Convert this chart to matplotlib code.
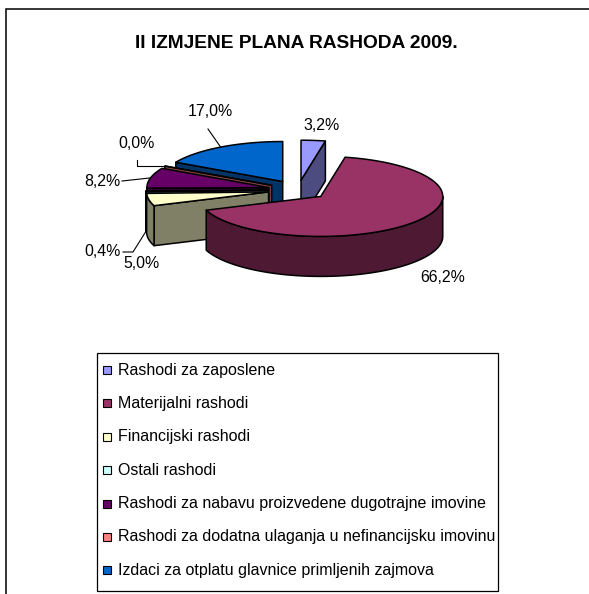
import numpy as np
import matplotlib
matplotlib.use("Agg")
import matplotlib.pyplot as plt
from matplotlib.patches import Polygon, Rectangle

# ---------------- data ----------------
categories = [
    "Rashodi za zaposlene",
    "Materijalni rashodi",
    "Financijski rashodi",
    "Ostali rashodi",
    "Rashodi za nabavu proizvedene dugotrajne imovine",
    "Rashodi za dodatna ulaganja u nefinancijsku imovinu",
    "Izdaci za otplatu glavnice primljenih zajmova",
]
values = [3.2, 66.2, 5.0, 0.4, 8.2, 0.0, 17.0]
value_labels = ["3,2%", "66,2%", "5,0%", "0,4%", "8,2%", "0,0%", "17,0%"]
top_colors = ["#9999FF", "#993366", "#FFFFCC", "#CCFFFF", "#660066", "#FF8080", "#0066CC"]
side_colors = ["#4C4C80", "#4D1933", "#808066", "#668080", "#330033", "#804040", "#003366"]
title = "II IZMJENE PLANA RASHODA 2009."

# ---------------- layout ----------------
W, H = 589, 594
CX, CY = 298, 190      # pie centre (px)
RX, RY = 122, 40       # ellipse radii (px)
DEPTH = 40             # pie thickness (px)
EXPL = 0.246           # explosion (fraction of radius)
FONT = "Liberation Sans"
LW = 1.1

# label text centres (px)
label_pos = [(322, 125), (443, 277), (142, 264), (103, 252), (102, 182), (137, 143), (210, 112)]

fig = plt.figure(figsize=(W / 100, H / 100), dpi=100)
ax = fig.add_axes([0, 0, 1, 1])
ax.set_xlim(0, W)
ax.set_ylim(H, 0)
ax.axis("off")

# outer frame
ax.plot([6, 6, W], [H, 9, 9], color="black", lw=1.1, solid_joinstyle="miter")

ax.text(296.5, 43, title, ha="center", va="center", fontsize=13.8,
        fontweight="bold", family=FONT)

# ---------------- 3D pie ----------------
total = sum(values)
angles = []
cum = 0.0
for v in values:
    a1 = 90 - cum / total * 360
    a0 = a1 - v / total * 360
    angles.append((np.radians(a0), np.radians(a1)))
    cum += v
mids = [(a0 + a1) / 2 for a0, a1 in angles]


def pt(i, r, th, z):
    m = mids[i]
    X = EXPL * np.cos(m) + r * np.cos(th)
    Y = EXPL * np.sin(m) + r * np.sin(th)
    return (CX + RX * X, CY - RY * Y + z * DEPTH)


def arc(i, lo, hi, z, n=None):
    if n is None:
        n = max(2, int(abs(hi - lo) / np.radians(1.5)) + 2)
    ths = np.linspace(lo, hi, n)
    return [pt(i, 1.0, t, z) for t in ths]


def poly(pts, fc):
    ax.add_patch(Polygon(pts, closed=True, facecolor=fc, edgecolor="black",
                         lw=LW, joinstyle="round"))


order = sorted(range(len(values)), key=lambda i: -np.sin(mids[i]))
for i in order:
    a0, a1 = angles[i]
    # radial faces
    if np.cos(a0) > 1e-9:
        poly([pt(i, 0, a0, 0), pt(i, 1, a0, 0), pt(i, 1, a0, 1), pt(i, 0, a0, 1)], side_colors[i])
    if np.cos(a1) < -1e-9:
        poly([pt(i, 0, a1, 0), pt(i, 1, a1, 0), pt(i, 1, a1, 1), pt(i, 0, a1, 1)], side_colors[i])
    # front wall
    for k in (-2, -1, 0, 1):
        lo = max(a0, -np.pi + 2 * np.pi * k)
        hi = min(a1, 0 + 2 * np.pi * k)
        if hi > lo:
            poly(arc(i, lo, hi, 0) + arc(i, hi, lo, 1), side_colors[i])
    # top
    poly([pt(i, 0, 0, 0)] + arc(i, a0, a1, 0), top_colors[i])

# labels
for i, (lx, ly) in enumerate(label_pos):
    ax.text(lx, ly, value_labels[i], ha="center", va="center", fontsize=11.4, family=FONT)

# leader lines
def rim(i, z=0):
    return pt(i, 1.0, mids[i], z)

bx, by = rim(6)
ax.plot([208, bx], [129, by], color="black", lw=0.8)
sx, sy = rim(5)
ax.plot([137, 137, sx], [160, sy, sy], color="black", lw=0.8)
px, py = rim(4)
ax.plot([122, px], [181, py], color="black", lw=0.8)
ox, oy = rim(3, 1)
ax.plot([123, 133, ox], [252, 252, oy], color="black", lw=0.8)

# ---------------- legend ----------------
ax.add_patch(Rectangle((97, 353), 401, 238, facecolor="white", edgecolor="black", lw=0.9))
for k, name in enumerate(categories):
    yy = 370 + 33.4 * k
    ax.add_patch(Rectangle((103, yy - 4), 8, 8, facecolor=top_colors[k], edgecolor="black", lw=0.8))
    ax.text(118, yy, name, ha="left", va="center", fontsize=11.55, family=FONT)

fig.savefig("out.png", dpi=100)
